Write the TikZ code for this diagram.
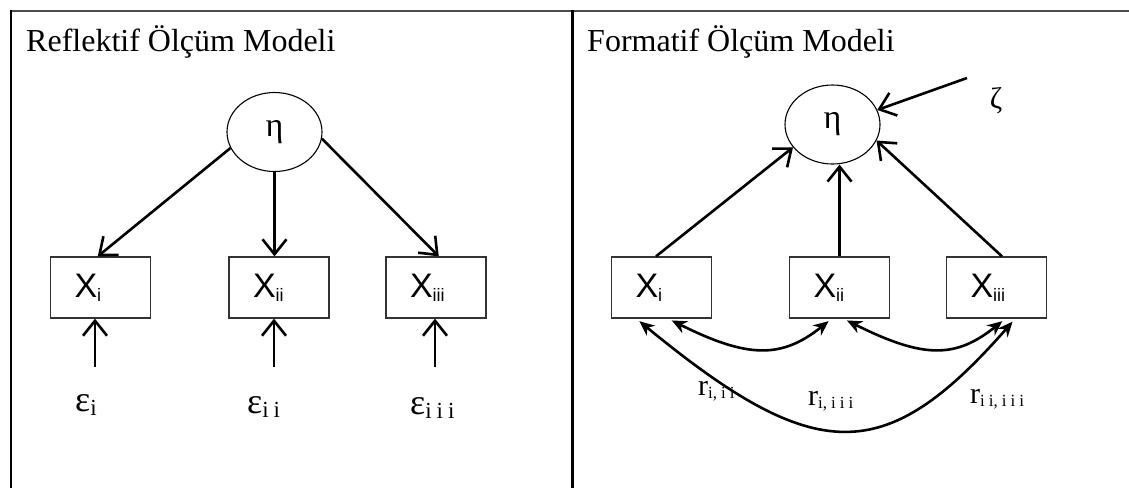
\documentclass[tikz,border=0pt]{standalone}
\usepackage{fontspec}
\setmainfont{Liberation Serif}
\newfontfamily\xfont{Liberation Sans}
\usetikzlibrary{arrows.meta,shapes.geometric}

\newcommand{\xlab}[1]{{\xfont\fontsize{34}{34}\selectfont X\raisebox{-4pt}{\fontsize{18}{18}\selectfont #1}}}
\newcommand{\elab}[1]{{\fontsize{36}{36}\selectfont ε\raisebox{-4pt}{\fontsize{23}{23}\selectfont #1}}}
\newcommand{\rlab}[1]{{\fontsize{30}{30}\selectfont r\raisebox{-3pt}{\fontsize{17}{17}\selectfont #1}}}

\begin{document}
\begin{tikzpicture}[x=1pt,y=1pt,yscale=-1,
  obs/.style={draw=black!80,line width=1.3pt,rectangle,minimum height=61pt,text width=52pt,inner xsep=24pt,inner ysep=0pt,align=left},
  lat/.style={draw,line width=1.1pt,ellipse,minimum width=95pt,minimum height=79pt,inner sep=0pt,fill=white,font=\fontsize{34}{34}\selectfont},
  barb/.style={line width=2.6pt,-{Straight Barb[length=15pt,width=24pt]}},
  corr/.style={line width=2.6pt,{Stealth[length=15pt,width=13pt]}-{Stealth[length=15pt,width=13pt]},shorten <=4pt,shorten >=4pt}]
\useasboundingbox (0,0) rectangle (1129,488);

%Frame
\draw [draw=black!70,line width=1.5pt] (10,11) -- (1129,11) ;
\draw [line width=2pt] (11,10.3) -- (11,488) ;
\draw [line width=3pt] (572,10.3) -- (572,488) ;

% Text Node
\node (ttl1) [anchor=base west,inner sep=0pt,font=\fontsize{32}{32}\selectfont] at (26,51) {Reflektif Ölçüm Modeli};
% Text Node
\node (ttl2) [anchor=base west,inner sep=0pt,font=\fontsize{32}{32}\selectfont] at (587,51) {Formatif Ölçüm Modeli};

%Shape: Ellipse (reflektif)
\node (leta) [lat] at (274.5,132) {η};
%Shape: Boxes (reflektif)
\node (lx1) [obs] at (100.5,287.5) {\xlab{i}};
\node (lx2) [obs] at (279,287.5) {\xlab{ii}};
\node (lx3) [obs] at (436,287.5) {\xlab{iii}};

%Straight Lines: loadings
\draw [barb] (leta.200) -- (lx1.95) ;
\draw [barb] (leta.south) -- (leta.south |- lx2.north) ;
\draw [barb] (leta.-8) -- (lx3.85) ;

%Straight Lines: errors
\coordinate (et1) at (95,367);
\coordinate (et2) at (274,367);
\coordinate (et3) at (435,367);
\draw [barb] (et1) -- (et1 |- lx1.south) ;
\draw [barb] (et2) -- (et2 |- lx2.south) ;
\draw [barb] (et3) -- (et3 |- lx3.south) ;

% Text Node
\node (eps1) [anchor=base west,inner sep=0pt] at (75,411) {\elab{i}};
% Text Node
\node (eps2) [anchor=base west,inner sep=0pt] at (247,413) {\elab{i\hspace{5pt}i}};
% Text Node
\node (eps3) [anchor=base west,inner sep=0pt] at (410,414) {\elab{i\hspace{5pt}i\hspace{5pt}i}};

%Shape: Ellipse (formatif)
\node (reta) [lat] at (832.5,124.5) {η};
%Shape: Boxes (formatif)
\node (rx1) [obs] at (661.5,287.5) {\xlab{i}};
\node (rx2) [obs] at (839.5,287.5) {\xlab{ii}};
\node (rx3) [obs] at (996.5,287.5) {\xlab{iii}};

%Straight Lines: weights
\draw [barb] (rx1.100) -- (reta.210) ;
\draw [barb] (rx2.north) -- (rx2.north |- reta.south) ;
\draw [barb] (rx3.80) -- (reta.-20) ;

%Disturbance
\node (zeta) [inner sep=0pt,font=\fontsize{30}{30}\selectfont] at (996,101) {ζ};
\coordinate (zt) at (967,78);
\draw [barb] (zt) -- (reta.18) ;

%Curves: correlations
\draw [corr] (rx1.-78) .. controls +(80,40) and +(-50,40) .. (rx2.-104) ;
\draw [corr] (rx2.-83) .. controls +(80,40) and +(-50,40) .. (rx3.-74) ;
\draw [corr] (rx1.-129) .. controls +(180,148) and +(-130,148) .. (rx3.-59) ;

% Text Node
\node (r12) [anchor=base west,inner sep=0pt] at (698,395) {\rlab{i,\hspace{4pt}i\hspace{4pt}i}};
% Text Node
\node (r13) [anchor=base west,inner sep=0pt] at (808,405) {\rlab{i,\hspace{4pt}i\hspace{4pt}i\hspace{4pt}i}};
% Text Node
\node (r23) [anchor=base west,inner sep=0pt] at (970,403) {\rlab{i\hspace{4pt}i,\hspace{4pt}i\hspace{4pt}i\hspace{4pt}i}};

\end{tikzpicture}
\end{document}
